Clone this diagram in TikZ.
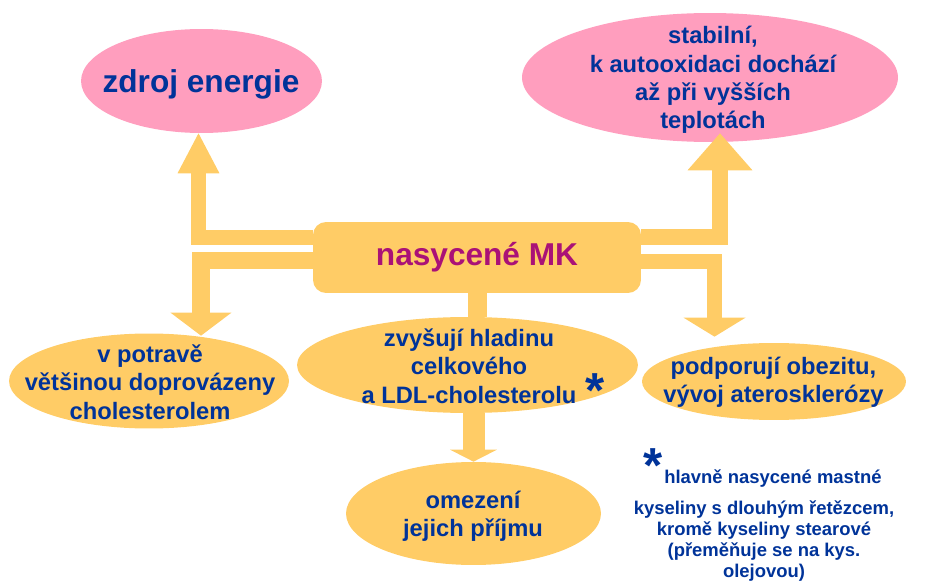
\documentclass[tikz,border=0pt]{standalone}
\usepackage{xcolor}
\usepackage{fontspec}
\setmainfont{Liberation Sans}
\usepackage{tikz}
\usetikzlibrary{arrows.meta,shapes.geometric}
\definecolor{mkorange}{RGB}{255,204,102}
\definecolor{mkpink}{RGB}{255,158,190}
\definecolor{mknavy}{RGB}{0,51,153}
\definecolor{mkmagenta}{RGB}{170,17,119}
\newcommand{\txtfont}[2]{\fontsize{#1}{#2}\selectfont\bfseries}

\begin{document}
\begin{tikzpicture}[x=0.02cm,y=-0.02cm,
  oval/.style={ellipse,inner sep=0pt,draw=none},
  mkbox/.style={fill=mkorange,rounded corners=0.26cm,inner sep=0pt,minimum width=6.56cm,minimum height=1.42cm,
    text=mkmagenta,font=\txtfont{18}{21}},
  txt/.style={text=mknavy,align=center,inner sep=0pt,font=\txtfont{13.5}{16.2}},
  note/.style={text=mknavy,align=center,inner sep=0pt,font=\txtfont{10.5}{12.1}},
  star/.style={text=mknavy,inner sep=0pt,anchor=base,font=\txtfont{28}{28}},
  flow/.style={draw=mkorange,line width=#1}]
  \useasboundingbox (0,0) rectangle (927,588);
  % ovals: name/centre/size/colour
  \foreach \n/\x/\y/\w/\h/\c in {energy/201.5/81/4.82/2.08/mkpink,stable/710/77.5/7.52/2.58/mkpink,
      chol/149/381/5.6/1.9/mkorange,ldl/467.5/365/6.82/1.92/mkorange,
      limit/473.5/513.5/5.1/2.06/mkorange,obes/774/381.5/5.28/1.54/mkorange}{
    \node[oval,fill=\c,minimum width=\w cm,minimum height=\h cm] (\n) at (\x,\y) {};
  }
  \node[mkbox] (mk) at (477,257.5) {nasycené MK};

  \node[txt,font=\txtfont{18}{21},anchor=base] (energyt) at (201,93) {zdroj energie};
  \node[txt] (stablet) at (713,80) {stabilní,\\k autooxidaci dochází\\až při vyšších\\teplotách};
  \node[txt] (cholt) at (150,382) {v potravě\\většinou doprovázeny\\cholesterolem};
  \node[txt] (ldlt) at (469,366) {zvyšují hladinu\\celkového\\a LDL-cholesterolu};
  \node[txt] (limitt) at (473,516) {omezení\\jejich příjmu};
  \node[txt] (obest) at (773.5,382) {podporují obezitu,\\vývoj aterosklerózy};
  \node[star] (ldlstar) at (595,407) {*};

  % footnote
  \node[star] (notestar) at (653,482) {*};
  \node[note,anchor=base] (note1) at (773,483) {hlavně nasycené mastné};
  \node[note] (note2) at (764,541) {kyseliny s dlouhým řetězcem,\\kromě kyseliny stearové\\(přeměňuje se na kys.\\olejovou)};

  % block arrows
  \draw[flow=0.3cm,-{Triangle[width=0.84cm,length=0.8cm,line width=0pt]}]
    ([yshift=0.4cm]mk.west) -| ([xshift=-0.06cm]energy.south);
  \draw[flow=0.36cm,-{Triangle[width=1.22cm,length=0.46cm,line width=0pt]}]
    ([yshift=-0.06cm]mk.west) -| ([xshift=1.04cm,yshift=-0.05cm]chol.north);
  \draw[flow=0.32cm,-{Triangle[width=1.3cm,length=0.74cm,line width=0pt]}]
    ([yshift=0.41cm]mk.east) -| ([xshift=0.2cm,yshift=0.18cm]stable.south);
  \draw[flow=0.3cm,-{Triangle[width=1.24cm,length=0.38cm,line width=0pt]}]
    ([yshift=-0.08cm]mk.east) -| ([xshift=-1.19cm,yshift=0.12cm]obes.north);
  \draw[flow=0.38cm] (mk.south) -- (mk.south |- ldl.north);
  \draw[flow=0.44cm,-{Triangle[width=0.94cm,length=0.24cm,line width=0pt]}]
    (limit.north |- ldl.south) -- (limit.north);
\end{tikzpicture}
\end{document}
